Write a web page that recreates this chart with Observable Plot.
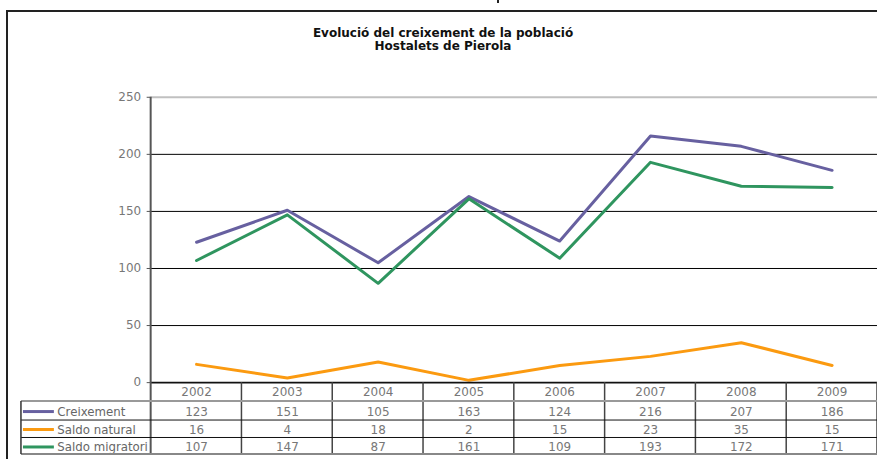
<!DOCTYPE html>
<html><head><meta charset="utf-8">
<script src="https://cdn.jsdelivr.net/npm/d3@7"></script>
<script src="https://cdn.jsdelivr.net/npm/@observablehq/plot@0.6"></script>
<style>
html,body{margin:0;padding:0;background:#fff;overflow:hidden;width:877px;height:459px}
#wrap{position:relative;width:877px;height:459px;overflow:hidden}
#frame{position:absolute;left:6px;top:10px;width:900px;height:480px;border-left:2px solid #222;border-top:2px solid #222;box-sizing:border-box}
#nub{position:absolute;left:497px;top:0;width:2px;height:3px;background:#222}
#title{position:absolute;left:0;top:27px;width:886px;text-align:center;font:bold 12px/13px "DejaVu Sans",sans-serif;color:#111}
#chart{position:absolute;left:0;top:0}
</style></head>
<body><div id="wrap"><div id="frame"></div><div id="nub"></div><div id="chart"></div>
<div id="title">Evolució del creixement de la població<br>Hostalets de Pierola</div></div>
<script>
const years = ["2002","2003","2004","2005","2006","2007","2008","2009"];
const creixement = [123,151,105,163,124,216,207,186];
const saldoNatural = [16,4,18,2,15,23,35,15];
const saldoMigratori = [107,147,87,161,109,193,172,171];
const seriesNames = ["Creixement","Saldo natural","Saldo migratori"];
const seriesValues = [creixement, saldoNatural, saldoMigratori];
const seriesColors = ["#6760a0","#fb9a10","#2f955f"];
const yTicks = [0,50,100,150,200,250];

const data = seriesNames.flatMap((s, k) => years.map((y, i) => ({series: s, year: y, value: seriesValues[k][i]})));

const rowDy = [29.5, 47.5, 65];

const marks = [
  Plot.gridY(yTicks.filter(t => t > 0 && t < 250), {stroke: "#000", strokeOpacity: 1, strokeWidth: 1}),
  Plot.ruleY([250], {stroke: "#c0c0c0", strokeWidth: 2}),
  Plot.axisY({ticks: yTicks, tickSize: 4, tickPadding: 6, stroke: "#555", fill: "#777", label: null, fontSize: 12}),
  Plot.line(data, {x: "year", y: "value", stroke: "series", strokeWidth: 3}),
  Plot.ruleY([0], {stroke: "#111", strokeWidth: 2}),
  Plot.text(years, {x: d => d, text: d => d, frameAnchor: "bottom", lineAnchor: "middle", dy: 10, fill: "#777", fontSize: 12})
];
seriesNames.forEach((s, k) => {
  marks.push(Plot.text(seriesValues[k], {x: (d, i) => years[i], text: d => String(d), frameAnchor: "bottom", lineAnchor: "middle", dy: rowDy[k], fill: "#777", fontSize: 12}));
  marks.push(Plot.text([s], {text: d => d, frameAnchor: "bottom-left", lineAnchor: "middle", dx: -94, dy: rowDy[k], textAnchor: "start", fill: "#666", fontSize: 11.8}));
});

const chart = Plot.plot({
  width: 879, height: 459,
  marginLeft: 151, marginRight: 0, marginTop: 97, marginBottom: 76,
  x: {type: "band", domain: years, padding: 0, axis: null},
  y: {domain: [0, 250], axis: null},
  color: {domain: seriesNames, range: seriesColors},
  style: {fontFamily: "DejaVu Sans", fontSize: "11.5px", color: "#777", background: "transparent", overflow: "visible"},
  marks
});
document.getElementById("chart").appendChild(chart);

// table chrome using the plot's own x scale
const xs = chart.scale("x");
const bw = xs.bandwidth;
const x0 = xs.range[0];
const xEnd = xs.apply(years[years.length - 1]) + bw;
const svg = d3.select(chart);
const g = svg.append("g");
const top0 = 383, rowLines = [402, 421, 438.5, 455];
g.append("line").attr("x1", x0).attr("x2", x0).attr("y1", 97).attr("y2", 455).attr("stroke", "#555").attr("stroke-width", 2);
years.slice(1).forEach(y => {
  const x = xs.apply(y);
  g.append("line").attr("x1", x).attr("x2", x).attr("y1", top0).attr("y2", 455).attr("stroke", "#444").attr("stroke-width", 1.5);
});
g.append("line").attr("x1", xEnd).attr("x2", xEnd).attr("y1", top0).attr("y2", 455).attr("stroke", "#444").attr("stroke-width", 1.5);
g.append("line").attr("x1", 21).attr("x2", xEnd).attr("y1", rowLines[0]).attr("y2", rowLines[0]).attr("stroke", "#999").attr("stroke-width", 2);
g.append("line").attr("x1", 21).attr("x2", xEnd).attr("y1", rowLines[1]).attr("y2", rowLines[1]).attr("stroke", "#111").attr("stroke-width", 1);
g.append("line").attr("x1", 21).attr("x2", xEnd).attr("y1", rowLines[2]).attr("y2", rowLines[2]).attr("stroke", "#111").attr("stroke-width", 1);
g.append("line").attr("x1", 21).attr("x2", xEnd).attr("y1", rowLines[3]).attr("y2", rowLines[3]).attr("stroke", "#888").attr("stroke-width", 2);
g.append("line").attr("x1", 21).attr("x2", 21).attr("y1", rowLines[0]).attr("y2", 455).attr("stroke", "#333").attr("stroke-width", 1.5);
seriesNames.forEach((s, k) => {
  const y = top0 + rowDy[k];
  g.append("line").attr("x1", 23).attr("x2", 54).attr("y1", y).attr("y2", y).attr("stroke", seriesColors[k]).attr("stroke-width", 3);
});
</script></body></html>
